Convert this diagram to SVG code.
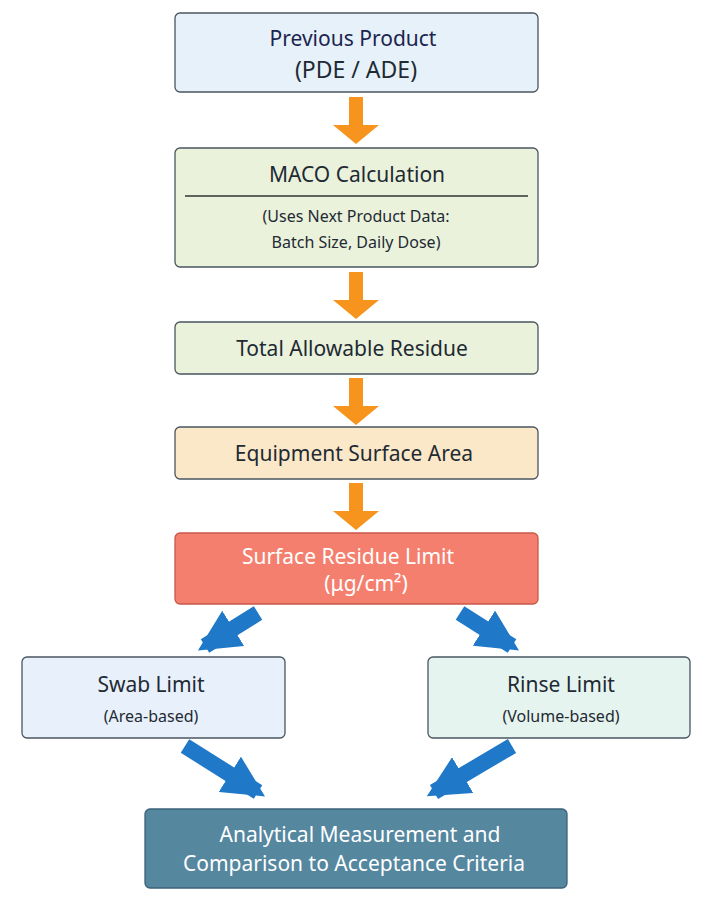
<svg xmlns="http://www.w3.org/2000/svg" width="708" height="900" viewBox="0 0 708 900">
<style>
.b{stroke:#4a5560;stroke-width:1.3}
text{font-family:"Noto Sans","Open Sans",sans-serif;text-anchor:middle;fill:#1f2a33}
.t{font-size:21px}
.s{font-size:16px}
.w{fill:#fff}
.oa{fill:#f7941d}
.ba{stroke:#1f78c8;stroke-width:16;fill:none}
</style>
<defs>
<marker id="bh" viewBox="0 0 10 10" refX="8" refY="5" markerWidth="2.6" markerHeight="2.6" orient="auto" markerUnits="strokeWidth">
<path d="M0,0 L10,5 L0,10 z" fill="#1f78c8"/>
</marker>
</defs>
<rect width="708" height="900" fill="#fff"/>
<g id="n1"><rect class="b" x="175" y="13" width="363" height="79" rx="5" fill="#e6f1fa"/>
<text class="t" x="353" y="46" fill="#1c2550" style="fill:#1c2550">Previous Product</text>
<text class="t" x="356" y="78" style="font-size:23px">(PDE / ADE)</text></g>
<g id="n2"><rect class="b" x="175" y="148" width="363" height="119" rx="5" fill="#eaf2dc"/>
<text class="t" x="357" y="182">MACO Calculation</text>
<line x1="185" y1="196" x2="528" y2="196" stroke="#333" stroke-width="1.3"/>
<text class="s" x="356" y="222">(Uses Next Product Data:</text>
<text class="s" x="356" y="248">Batch Size, Daily Dose)</text></g>
<g id="n3"><rect class="b" x="175" y="322" width="363" height="52" rx="5" fill="#eaf2dc"/>
<text class="t" x="352" y="356">Total Allowable Residue</text></g>
<g id="n4"><rect class="b" x="175" y="427" width="363" height="52" rx="5" fill="#fbe8c8"/>
<text class="t" x="354" y="461">Equipment Surface Area</text></g>
<g id="n5"><rect x="175" y="533" width="363" height="71" rx="5" fill="#f47f6e" stroke="#c95848" stroke-width="1.3"/>
<text class="t w" x="348" y="564">Surface Residue Limit</text>
<text class="t w" x="366" y="591">(μg/cm²)</text></g>
<g id="n6"><rect class="b" x="22" y="657" width="263" height="81" rx="5" fill="#e8f1fb"/>
<text class="t" x="151" y="692">Swab Limit</text>
<text class="s" x="151" y="722">(Area-based)</text></g>
<g id="n7"><rect class="b" x="428" y="657" width="262" height="81" rx="5" fill="#e6f4ef"/>
<text class="t" x="561" y="692">Rinse Limit</text>
<text class="s" x="561" y="722">(Volume-based)</text></g>
<g id="n8"><rect x="145" y="809" width="422" height="79" rx="5" fill="#55879f" stroke="#3a6378" stroke-width="1.3"/>
<text class="t w" x="360" y="842">Analytical Measurement and</text>
<text class="t w" x="354" y="871">Comparison to Acceptance Criteria</text></g>
<g id="connectors">
<path class="oa" d="M349,97h14v28h16l-23,19l-23,-19h16z"/>
<path class="oa" d="M349,272h14v28h16l-23,19l-23,-19h16z"/>
<path class="oa" d="M349,378h14v28h16l-23,19l-23,-19h16z"/>
<path class="oa" d="M349,483h14v28h16l-23,19l-23,-19h16z"/>
<line class="ba" x1="258" y1="613" x2="205" y2="646" marker-end="url(#bh)"/>
<line class="ba" x1="460" y1="613" x2="512" y2="646" marker-end="url(#bh)"/>
<line class="ba" x1="185" y1="746" x2="258" y2="792" marker-end="url(#bh)"/>
<line class="ba" x1="512" y1="746" x2="434" y2="792" marker-end="url(#bh)"/>
</g>
</svg>
